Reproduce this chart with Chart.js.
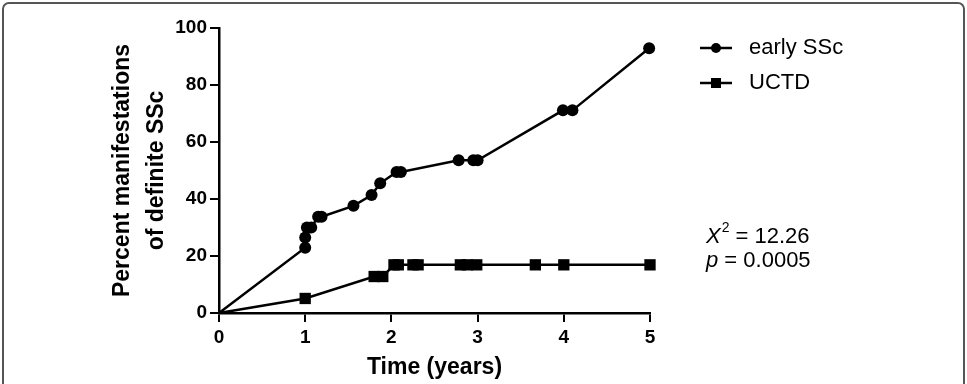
<!DOCTYPE html>
<html lang="en">
<head>
    <meta charset="UTF-8">
    <title>early SSc vs UCTD</title>
    <style>
        body {
            margin: 0;
            background-color: #ffffff;
        }
        .wrap {
            position: relative;
            width: 967px;
            height: 384px;
            overflow: hidden;
        }
        .frame {
            position: absolute;
            left: 2px;
            top: 2px;
            width: 959px;
            height: 420px;
            border: 2px solid #555;
            border-radius: 7px;
        }
        canvas {
            position: absolute;
            left: 0;
            top: 0;
        }
    </style>
</head>
<body>
    <div class="wrap">
        <div class="frame"></div>
        <canvas id="chart" width="967" height="384"></canvas>
    </div>

    <script src="https://cdn.jsdelivr.net/npm/chart.js@4/dist/chart.umd.min.js"></script>
    <script>
        // values (years, percent)
        const earlyX = [0, 1.0, 1.0, 1.02, 1.07, 1.15, 1.19, 1.56, 1.77, 1.87, 2.06, 2.11, 2.78, 2.95, 3.0, 3.99, 4.1, 4.99];
        const earlyY = [0, 22.9, 26.5, 30.0, 30.0, 33.8, 33.8, 37.6, 41.4, 45.5, 49.5, 49.5, 53.6, 53.6, 53.6, 71.1, 71.1, 92.9];
        const uctdX = [0, 1.0, 1.8, 1.9, 2.03, 2.08, 2.25, 2.31, 2.8, 2.88, 2.99, 3.67, 4.0, 5.0];
        const uctdY = [0, 5.1, 12.8, 12.8, 16.9, 16.9, 16.9, 16.9, 16.9, 16.9, 16.9, 16.9, 16.9, 16.9];
        const seriesNames = ['early SSc', 'UCTD'];
        const xTicks = [0, 1, 2, 3, 4, 5];
        const yTicks = [0, 20, 40, 60, 80, 100];
        const statLines = ['12.26', '0.0005'];

        const FONT = '"Liberation Sans", Arial, Helvetica, sans-serif';

        function toPoints(xs, ys) {
            return xs.map((x, i) => ({ x: x, y: ys[i] }));
        }

        // the curves start at the origin without a symbol
        function radius(r) {
            return ctx => (ctx.dataIndex === 0 ? 0 : r);
        }

        // legend + chi-square text, drawn on the right side
        const sidePlugin = {
            id: 'side',
            afterDraw(chart) {
                const ctx = chart.ctx;
                ctx.save();
                ctx.strokeStyle = '#000';
                ctx.fillStyle = '#000';
                ctx.lineWidth = 2.5;
                const rows = [48, 83];
                rows.forEach((y, i) => {
                    ctx.beginPath();
                    ctx.moveTo(700, y);
                    ctx.lineTo(732, y);
                    ctx.stroke();
                    ctx.beginPath();
                    if (i === 0) {
                        ctx.arc(716, y, 5, 0, Math.PI * 2);
                    } else {
                        ctx.rect(711, y - 5, 10, 10);
                    }
                    ctx.fill();
                    ctx.font = '22px ' + FONT;
                    ctx.textBaseline = 'middle';
                    ctx.textAlign = 'left';
                    ctx.fillText(seriesNames[i], 749, y);
                });

                ctx.textBaseline = 'alphabetic';
                ctx.font = 'italic 22px ' + FONT;
                ctx.fillText('X', 706, 243);
                let w = ctx.measureText('X').width;
                ctx.font = '14px ' + FONT;
                ctx.fillText('2', 706 + w + 1, 232);
                let w2 = ctx.measureText('2').width;
                ctx.font = '22px ' + FONT;
                ctx.fillText(' = ' + statLines[0], 706 + w + w2 + 1, 243);

                ctx.font = 'italic 22px ' + FONT;
                ctx.fillText('p', 706, 267);
                w = ctx.measureText('p').width;
                ctx.font = '22px ' + FONT;
                ctx.fillText(' = ' + statLines[1], 706 + w, 267);
                ctx.restore();
            }
        };

        new Chart(document.getElementById('chart'), {
            type: 'scatter',
            data: {
                datasets: [
                    {
                        label: seriesNames[0],
                        data: toPoints(earlyX, earlyY),
                        showLine: true,
                        borderColor: '#000',
                        backgroundColor: '#000',
                        borderWidth: 2.5,
                        pointStyle: 'circle',
                        pointRadius: radius(6),
                        pointBorderWidth: 0,
                        clip: false
                    },
                    {
                        label: seriesNames[1],
                        data: toPoints(uctdX, uctdY),
                        showLine: true,
                        borderColor: '#000',
                        backgroundColor: '#000',
                        borderWidth: 2.5,
                        pointStyle: 'rect',
                        pointRadius: radius(8),
                        pointBorderWidth: 0,
                        clip: false
                    }
                ]
            },
            options: {
                responsive: false,
                animation: false,
                layout: { padding: { left: 0, right: 317, top: 28, bottom: 0 } },
                plugins: {
                    legend: { display: false },
                    tooltip: { enabled: false }
                },
                scales: {
                    x: {
                        type: 'linear',
                        min: 0,
                        max: 5,
                        afterBuildTicks: s => { s.ticks = xTicks.map(v => ({ value: v })); },
                        afterFit: s => { s.height = 71; },
                        ticks: {
                            color: '#000',
                            padding: 4,
                            font: { family: FONT, size: 19, weight: 'bold' }
                        },
                        grid: { drawOnChartArea: false, drawTicks: true, tickLength: 9, color: '#000', lineWidth: 2 },
                        border: { color: '#000', width: 2.5 },
                        title: {
                            display: true,
                            text: 'Time (years)',
                            color: '#000',
                            padding: { top: 0, bottom: 3 },
                            font: { family: FONT, size: 23, weight: 'bold', lineHeight: 1.2 }
                        }
                    },
                    y: {
                        min: 0,
                        max: 100,
                        afterBuildTicks: s => { s.ticks = yTicks.map(v => ({ value: v })); },
                        afterFit: s => { s.width = 219; },
                        ticks: {
                            color: '#000',
                            padding: 3,
                            font: { family: FONT, size: 19, weight: 'bold' }
                        },
                        grid: { drawOnChartArea: false, drawTicks: true, tickLength: 9, color: '#000', lineWidth: 2 },
                        border: { color: '#000', width: 2.5 },
                        title: {
                            display: true,
                            text: ['Percent manifestations', 'of definite SSc'],
                            color: '#000',
                            padding: { top: 105, bottom: 0 },
                            font: { family: FONT, size: 23, weight: 'bold', lineHeight: 1.5 }
                        }
                    }
                }
            },
            plugins: [sidePlugin]
        });
    </script>
</body>
</html>
